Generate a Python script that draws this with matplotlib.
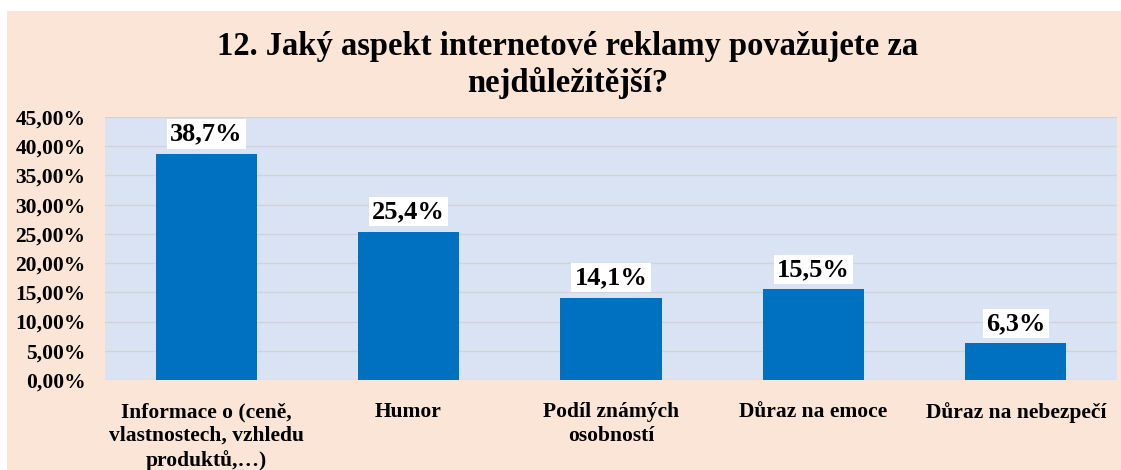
import matplotlib
matplotlib.use("Agg")
import matplotlib.pyplot as plt
from matplotlib.patches import Rectangle
from matplotlib.ticker import FuncFormatter

categories = ["Informace o (ceně,\nvlastnostech, vzhledu\nproduktů,…)", "Humor",
              "Podíl známých\nosobností", "Důraz na emoce", "Důraz na nebezpečí"]
values = [38.7, 25.4, 14.1, 15.5, 6.3]
labels = ["38,7%", "25,4%", "14,1%", "15,5%", "6,3%"]
title = "12. Jaký aspekt internetové reklamy považujete za\nnejdůležitější?"

plt.rcParams['font.family'] = ['Liberation Serif', 'DejaVu Serif']

fig = plt.figure(figsize=(11.21, 4.70), dpi=100)
fig.patch.set_facecolor("white")
fig.patches.append(Rectangle((7/1121, 0), 1 - 7/1121, 1 - 11/470, transform=fig.transFigure,
                             facecolor="#FBE5D6", edgecolor="none", zorder=-10))

ax = fig.add_axes([105/1121, 90/470, (1117-105)/1121, (380-117)/470])
ax.set_zorder(5)
ax.set_facecolor("#DAE3F3")
x = list(range(len(values)))
ax.bar(x, values, width=0.5, color="#0070C0", zorder=3)
ax.set_xlim(-0.5, len(values) - 0.5)
ax.set_ylim(0, 45)
ax.set_yticks(range(0, 46, 5))
ax.yaxis.set_major_formatter(FuncFormatter(lambda v, p: f"{v:.2f}".replace(".", ",") + "%"))
ax.grid(axis="y", color="#D0D4DA", linewidth=1, zorder=1)
ax.set_axisbelow(True)
for s in ax.spines.values():
    s.set_visible(False)
ax.tick_params(axis="both", length=0)
ax.tick_params(axis="y", pad=14, labelsize=15.5)
for t in ax.get_yticklabels():
    t.set_fontweight("bold")
ax.set_xticks(x)
ax.set_xticklabels(categories, fontsize=15.5, fontweight="bold", linespacing=1.25)
ax.tick_params(axis="x", pad=16)

for xi, v, lab in zip(x, values, labels):
    ax.annotate(lab, (xi, v), xytext=(0, 6), textcoords="offset points",
                ha="center", va="bottom", fontsize=19, fontweight="bold",
                bbox=dict(boxstyle="square,pad=0.12", facecolor="white", edgecolor="none"),
                zorder=5)

fig.text(568/1121, 1 - 65/470, title, ha="center", va="center", fontsize=23.5,
         fontweight="bold", linespacing=1.2)

fig.savefig("out.png", dpi=100)
